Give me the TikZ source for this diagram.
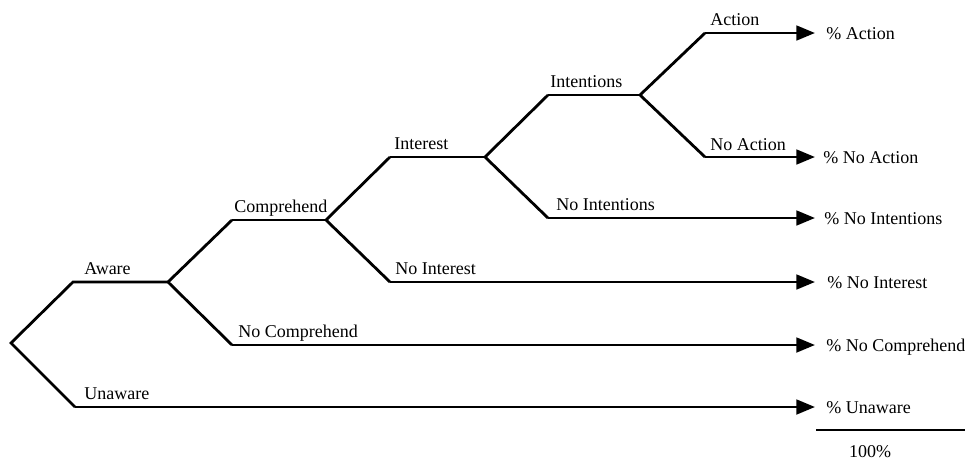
\documentclass[tikz,border=0pt]{standalone}
\usepackage{fontspec}
\setmainfont{Liberation Serif}
\usetikzlibrary{arrows.meta}

\begin{document}
\begin{tikzpicture}[x=0.75pt,y=-0.75pt,line width=2.1pt,line join=miter,
	every node/.style={inner sep=0pt,anchor=base west,font=\fontsize{13.5}{16}\selectfont},
	leaf/.style={-{Triangle[length=14pt,width=11pt]}}]
	\useasboundingbox (0,0) rectangle (965,462);
	%split points placed by hand
	\coordinate (root) at (11,343);
	\coordinate (aware) at (168,282);
	\coordinate (comp) at (326,220);
	\coordinate (interest) at (485,157);
	\coordinate (intent) at (640,95);
	%% corners where each branch turns flat
	\coordinate (aware0) at (73,282);\coordinate (unaware0) at (75,407);
	\coordinate (comp0) at (232,220);\coordinate (nocomp0) at (232,345);
	\coordinate (interest0) at (390,157);\coordinate (nointerest0) at (390,282);
	\coordinate (intent0) at (548,95);\coordinate (nointent0) at (548,218);
	\coordinate (action0) at (705,33);\coordinate (noaction0) at (705,157);
	%% arrow ends and outcome texts drawn with a loop
	\foreach \n/\y/\x/\t in {action/33/825/Action,noaction/157/822/No Action,
		nointent/218/823/No Intentions,nointerest/282/826/No Interest,
		nocomp/345/825/No Comprehend,unaware/407/825/Unaware}{
		\coordinate (\n1) at (815,\y);
		\node (p\n) at (\x,\y+6){\% \t};
		}
	%% straight branches
	\draw (aware)--(aware0)--(root)--(unaware0);
	\draw (comp0)--(aware)--(nocomp0);
	\draw (interest0)--(comp)--(nointerest0);
	\draw (intent0)--(interest)--(nointent0);
	\draw (action0)--(intent)--(noaction0);
	\draw (comp0)--(comp);\draw (interest0)--(interest);\draw (intent0)--(intent);
	\draw[leaf] (unaware0)--(unaware1);
	\draw[leaf] (nocomp0)--(nocomp1);
	\draw[leaf] (nointerest0)--(nointerest1);
	\draw[leaf] (nointent0)--(nointent1);
	\draw[leaf] (action0)--(action1);
	\draw[leaf] (noaction0)--(noaction1);
	%% branch labels
	\node (laware) at (83,274){Aware};
	\node (lunaware) at (83,399){Unaware};
	\node (lcomp) at (233,212){Comprehend};
	\node (lnocomp) at (237,337){No Comprehend};
	\node (linterest) at (393,149){Interest};
	\node (lnointerest) at (394,274){No Interest};
	\node (lintent) at (549,87){Intentions};
	\node (lnointent) at (555,210){No Intentions};
	\node (laction) at (709,25){Action};
	\node (lnoaction) at (709,150){No Action};
	%% total under the last column
	\coordinate (sum0) at (816,430);\coordinate (sum1) at (965,430);
	\draw[line width=0.8pt] (sum0)--(sum1);
	\node[anchor=base] (total) at (870,457){100\%};
\end{tikzpicture}
\end{document}
